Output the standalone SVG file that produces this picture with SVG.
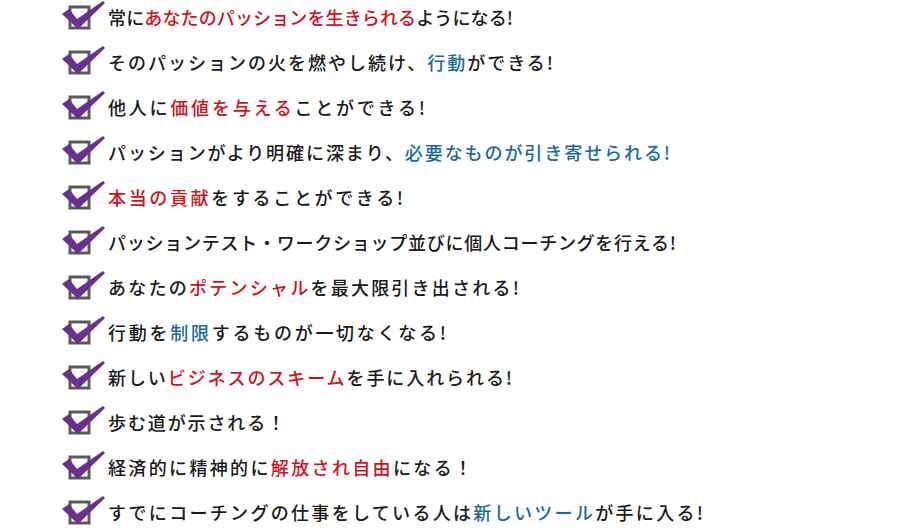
<svg xmlns="http://www.w3.org/2000/svg" xmlns:xlink="http://www.w3.org/1999/xlink" width="900" height="530" viewBox="0 0 900 530">
<style>
text{font-family:"Noto Sans CJK JP","Noto Sans CJK SC",sans-serif;font-size:18px;font-weight:500;fill:#1a1a1a;dominant-baseline:central}
.r{fill:#d0121b}.b{fill:#1a6a9a}
</style>
<defs>
<g id="chk">
<rect x="70" y="-10" width="19" height="21" fill="#fff" stroke="#5a5a5a" stroke-width="3"/>
<path d="M62,-3 L69,-8 L77,2 L103,-16 L105,-14 L78,12 Z" fill="#6a2f91"/>
</g>
</defs>
<rect width="900" height="530" fill="#fff"/>
<g id="items">
<g id="n1" transform="translate(0,17)"><use xlink:href="#chk"/><text x="108" y="0" textLength="405" lengthAdjust="spacing">常に<tspan class="r">あなたのパッションを生きられる</tspan>ようになる!</text></g>
<g id="n2" transform="translate(0,62)"><use xlink:href="#chk"/><text x="108" y="0" textLength="445" lengthAdjust="spacing">そのパッションの火を燃やし続け、<tspan class="b">行動</tspan>ができる!</text></g>
<g id="n3" transform="translate(0,107)"><use xlink:href="#chk"/><text x="108" y="0" textLength="317" lengthAdjust="spacing">他人に<tspan class="r">価値を与える</tspan>ことができる!</text></g>
<g id="n4" transform="translate(0,152)"><use xlink:href="#chk"/><text x="108" y="0" textLength="562" lengthAdjust="spacing">パッションがより明確に深まり、<tspan class="b">必要なものが引き寄せられる!</tspan></text></g>
<g id="n5" transform="translate(0,197)"><use xlink:href="#chk"/><text x="108" y="0" textLength="295" lengthAdjust="spacing"><tspan class="r">本当の貢献</tspan>をすることができる!</text></g>
<g id="n6" transform="translate(0,242)"><use xlink:href="#chk"/><text x="108" y="0" textLength="568" lengthAdjust="spacing">パッションテスト・ワークショップ並びに個人コーチングを行える!</text></g>
<g id="n7" transform="translate(0,287)"><use xlink:href="#chk"/><text x="108" y="0" textLength="411" lengthAdjust="spacing">あなたの<tspan class="r">ポテンシャル</tspan>を最大限引き出される!</text></g>
<g id="n8" transform="translate(0,332)"><use xlink:href="#chk"/><text x="108" y="0" textLength="338" lengthAdjust="spacing">行動を<tspan class="b">制限</tspan>するものが一切なくなる!</text></g>
<g id="n9" transform="translate(0,377)"><use xlink:href="#chk"/><text x="108" y="0" textLength="404" lengthAdjust="spacing">新しい<tspan class="r">ビジネスのスキーム</tspan>を手に入れられる!</text></g>
<g id="n10" transform="translate(0,422)"><use xlink:href="#chk"/><text x="108" y="0" textLength="177" lengthAdjust="spacing">歩む道が示される！</text></g>
<g id="n11" transform="translate(0,467)"><use xlink:href="#chk"/><text x="108" y="0" textLength="364" lengthAdjust="spacing">経済的に精神的に<tspan class="r">解放され自由</tspan>になる！</text></g>
<g id="n12" transform="translate(0,512)"><use xlink:href="#chk"/><text x="108" y="0" textLength="595" lengthAdjust="spacing">すでにコーチングの仕事をしている人は<tspan class="b">新しいツール</tspan>が手に入る!</text></g>
</g>
<g id="connectors"/>
</svg>
